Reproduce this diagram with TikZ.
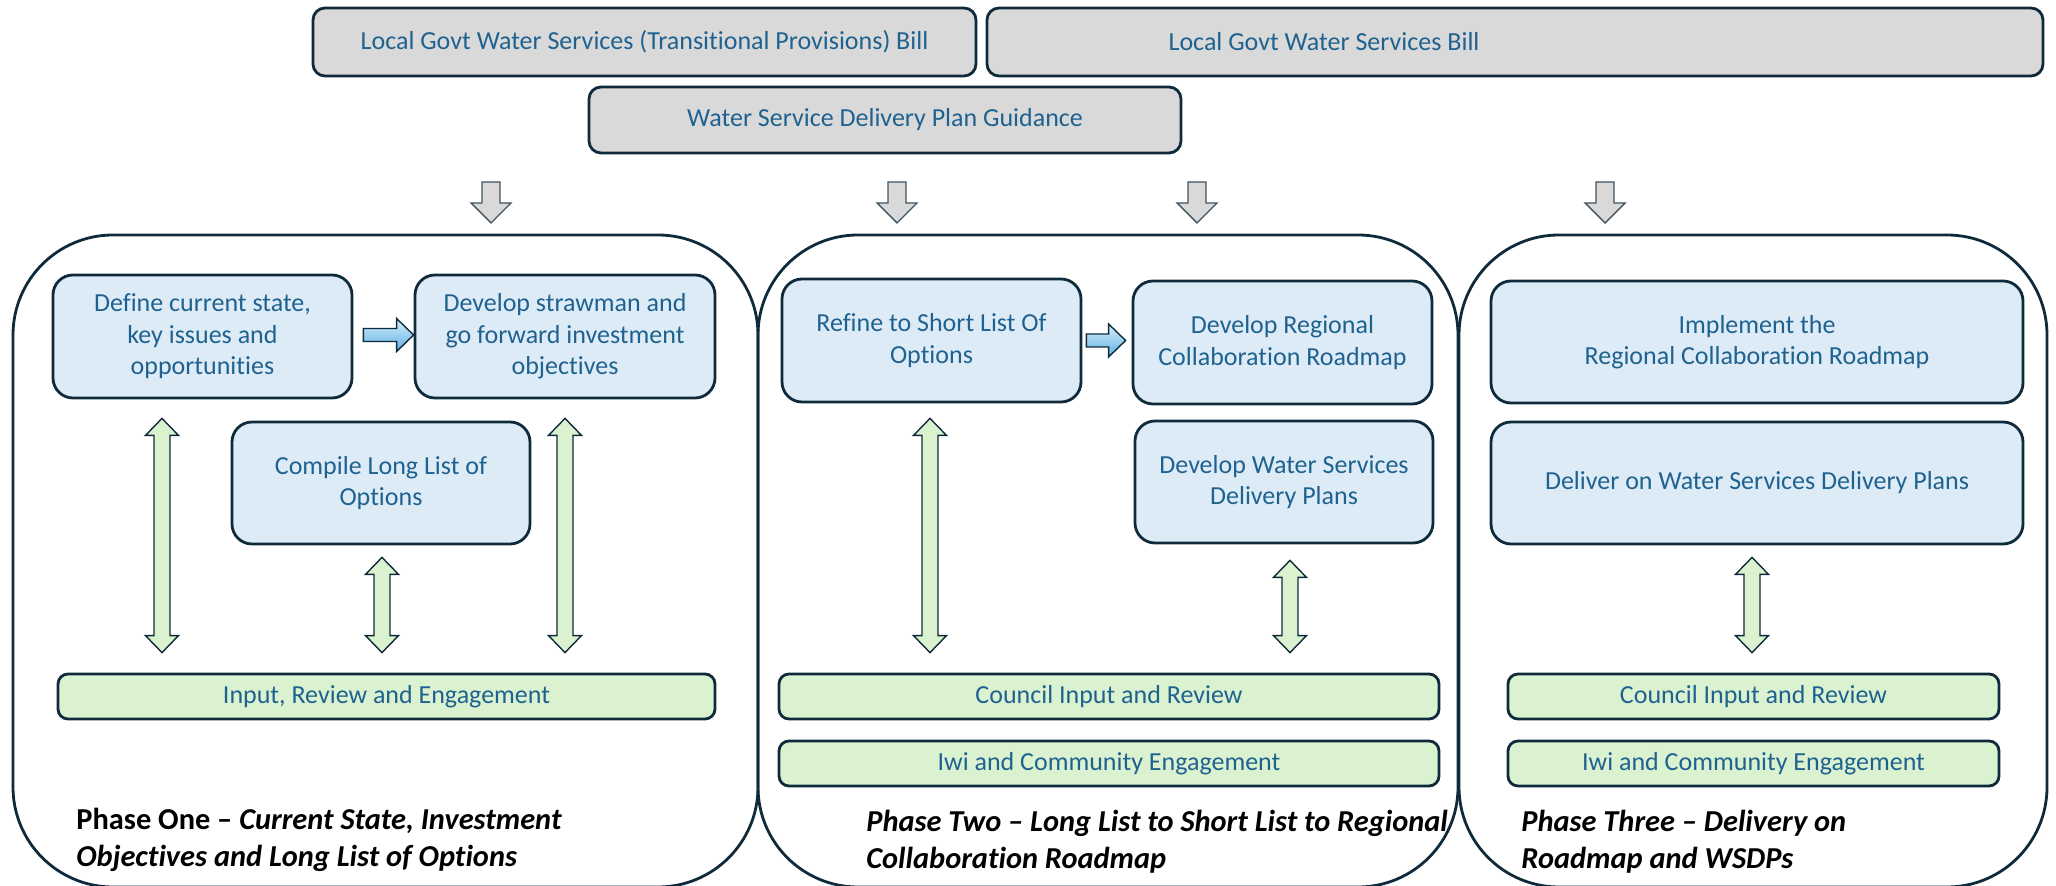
\documentclass[tikz,border=0pt]{standalone}
\usepackage{fontspec}
\setmainfont{Carlito}[Ligatures=NoCommon]
\usetikzlibrary{calc}
\definecolor{bord}{HTML}{0F2A3B}
\definecolor{txt}{HTML}{1F6290}
\definecolor{bluefill}{HTML}{DDEBF7}
\definecolor{greenfill}{HTML}{DAF2D0}
\definecolor{grayfill}{HTML}{D9D9D9}
\definecolor{arrtop}{HTML}{D6EEFB}
\definecolor{arrbot}{HTML}{5FB1E4}
\tikzset{
  boxtext/.style={text=txt,font=\fontsize{13}{15.7}\selectfont,align=center},
  topbox/.style={draw=bord,line width=1.4pt,fill=grayfill,rounded corners=6pt,inner sep=0pt},
  stepbox/.style={draw=bord,line width=1.4pt,fill=bluefill,rounded corners=10pt,inner sep=0pt,boxtext},
  barbox/.style={draw=bord,line width=1.4pt,fill=greenfill,rounded corners=5pt,inner sep=0pt,boxtext},
  phasebox/.style={draw=bord,line width=1.4pt,rounded corners=50pt},
  phasetitle/.style={font=\fontsize{15.2}{18.5}\selectfont\bfseries,align=left,inner sep=0pt,text=black},
  garrow/.style={draw=bord,line width=0.7pt,fill=greenfill,line join=miter},
  grarrow/.style={draw=bord!80,line width=0.7pt,fill=grayfill,line join=miter},
  barrow/.style={draw=bord,line width=0.7pt,top color=arrtop,bottom color=arrbot,line join=miter},
}
% vertical double block arrow: x (px), top node, bottom node, top gap (pt)
\newcommand\gdarrow[4]{%
  \path[garrow] let \p1=(#1,0), \p2=(#2.south), \p3=(#3.north) in
   (\x1-4pt,\y2-#4-8.5pt) -- (\x1-8.25pt,\y2-#4-8.5pt) -- (\x1,\y2-#4)
   -- (\x1+8.25pt,\y2-#4-8.5pt) -- (\x1+4pt,\y2-#4-8.5pt)
   -- (\x1+4pt,\y3+18.5pt) -- (\x1+8.25pt,\y3+18.5pt) -- (\x1,\y3+10pt)
   -- (\x1-8.25pt,\y3+18.5pt) -- (\x1-4pt,\y3+18.5pt) -- cycle;}
% gray down arrow above a phase box: x (px), phase top coordinate
\newcommand\grayarrow[2]{%
  \path[grarrow] let \p1=(#1,0), \p2=(#2) in
   (\x1-4.5pt,\y2+26.5pt) -- (\x1-4.5pt,\y2+16pt) -- (\x1-10pt,\y2+16pt)
   -- (\x1,\y2+6pt) -- (\x1+10pt,\y2+16pt) -- (\x1+4.5pt,\y2+16pt)
   -- (\x1+4.5pt,\y2+26.5pt) -- cycle;}
% blue right block arrow: start coordinate, end coordinate
\newcommand\bluearrow[2]{%
  \path[barrow] let \p1=(#1), \p2=(#2) in
   (\x1,\y1+3.25pt) -- (\x2-8.5pt,\y1+3.25pt) -- (\x2-8.5pt,\y1+8.25pt)
   -- (\x2,\y1) -- (\x2-8.5pt,\y1-8.25pt) -- (\x2-8.5pt,\y1-3.25pt)
   -- (\x1,\y1-3.25pt) -- cycle;}
\begin{document}
\begin{tikzpicture}[x=0.5pt,y=-0.5pt]
\useasboundingbox (0,0) rectangle (2056,886);
% top boxes
\node[topbox,minimum width=331.5pt,minimum height=34pt] (bill1) at (644.5,42) {};
\node[boxtext] (bill1t) at (bill1.center) {Local Govt Water Services (Transitional Provisions) Bill};
\node[topbox,minimum width=528pt,minimum height=34pt] (bill2) at (1515,42) {};
\node[boxtext] (bill2t) at (1324,42) {Local Govt Water Services Bill};
\node[topbox,minimum width=296pt,minimum height=33pt] (guide) at (885,120) {};
\node[boxtext] (guidet) at (guide.center) {Water Service Delivery Plan Guidance};
% phase boxes
\draw[phasebox] (13,235) rectangle (758,887);
\draw[phasebox] (758,235) rectangle (1458,887);
\draw[phasebox] (1459,235) rectangle (2047,887);
\coordinate (p1n) at (385.5,235);
\coordinate (p2n) at (1108,235);
\coordinate (p3n) at (1753,235);
% gray arrows
\grayarrow{491}{p1n}
\grayarrow{897}{p2n}
\grayarrow{1197}{p2n}
\grayarrow{1605}{p3n}
% phase one
\node[stepbox,minimum width=149.5pt,minimum height=61.5pt] (define) at (202.5,336.5) {Define current state,\\key issues and\\opportunities};
\node[stepbox,minimum width=150pt,minimum height=61.5pt] (straw) at (565,336.5) {Develop strawman and\\go forward investment\\objectives};
\node[stepbox,minimum width=149pt,minimum height=61pt] (compile) at (381,483) {Compile Long List of\\Options};
\node[barbox,minimum width=328.5pt,minimum height=22.5pt] (input) at (386.5,696.5) {Input, Review and Engagement};
\node[phasetitle,anchor=base west] (t1) at (76,866) {Phase One -- \textit{Current State, Investment}\\\textit{Objectives and Long List of Options}};
\bluearrow{$(define.east)+(10,-1.5)$}{$(straw.west)+(0,-1.5)$}
\gdarrow{162}{define}{input}{9.5pt}
\gdarrow{382}{compile}{input}{6pt}
\gdarrow{565}{straw}{input}{9.5pt}
% phase two
\node[stepbox,minimum width=149.5pt,minimum height=61.5pt] (refine) at (931.5,340.5) {Refine to Short List Of\\Options};
\node[stepbox,minimum width=149.5pt,minimum height=61.5pt] (devreg) at (1282.5,342.5) {Develop Regional\\Collaboration Roadmap};
\node[stepbox,minimum width=149pt,minimum height=61pt] (devwater) at (1284,482) {Develop Water Services\\Delivery Plans};
\node[barbox,minimum width=330pt,minimum height=22.5pt] (council2) at (1109,696.5) {Council Input and Review};
\node[barbox,minimum width=330pt,minimum height=22.5pt] (iwi2) at (1109,763.5) {Iwi and Community Engagement};
\node[phasetitle,anchor=base west] (t2) at (866,868) {\textit{Phase Two -- Long List to Short List to Regional}\\\textit{Collaboration Roadmap}};
\bluearrow{$(refine.east)+(4,0)$}{$(devreg.west)+(-6,-2)$}
\gdarrow{930}{refine}{council2}{7.5pt}
\gdarrow{1290}{devwater}{council2}{8pt}
% phase three
\node[stepbox,minimum width=266pt,minimum height=61pt] (impl) at (1757,342) {Implement the\\Regional Collaboration Roadmap};
\node[stepbox,minimum width=266pt,minimum height=61pt] (deliver) at (1757,483) {Deliver on Water Services Delivery Plans};
\node[barbox,minimum width=245.5pt,minimum height=22.5pt] (council3) at (1753.5,696.5) {Council Input and Review};
\node[barbox,minimum width=245.5pt,minimum height=22.5pt] (iwi3) at (1753.5,763.5) {Iwi and Community Engagement};
\node[phasetitle,anchor=base west] (t3) at (1521,868) {\textit{Phase Three -- Delivery on}\\\textit{Roadmap and WSDPs}};
\gdarrow{1752}{deliver}{council3}{6pt}
\end{tikzpicture}
\end{document}
